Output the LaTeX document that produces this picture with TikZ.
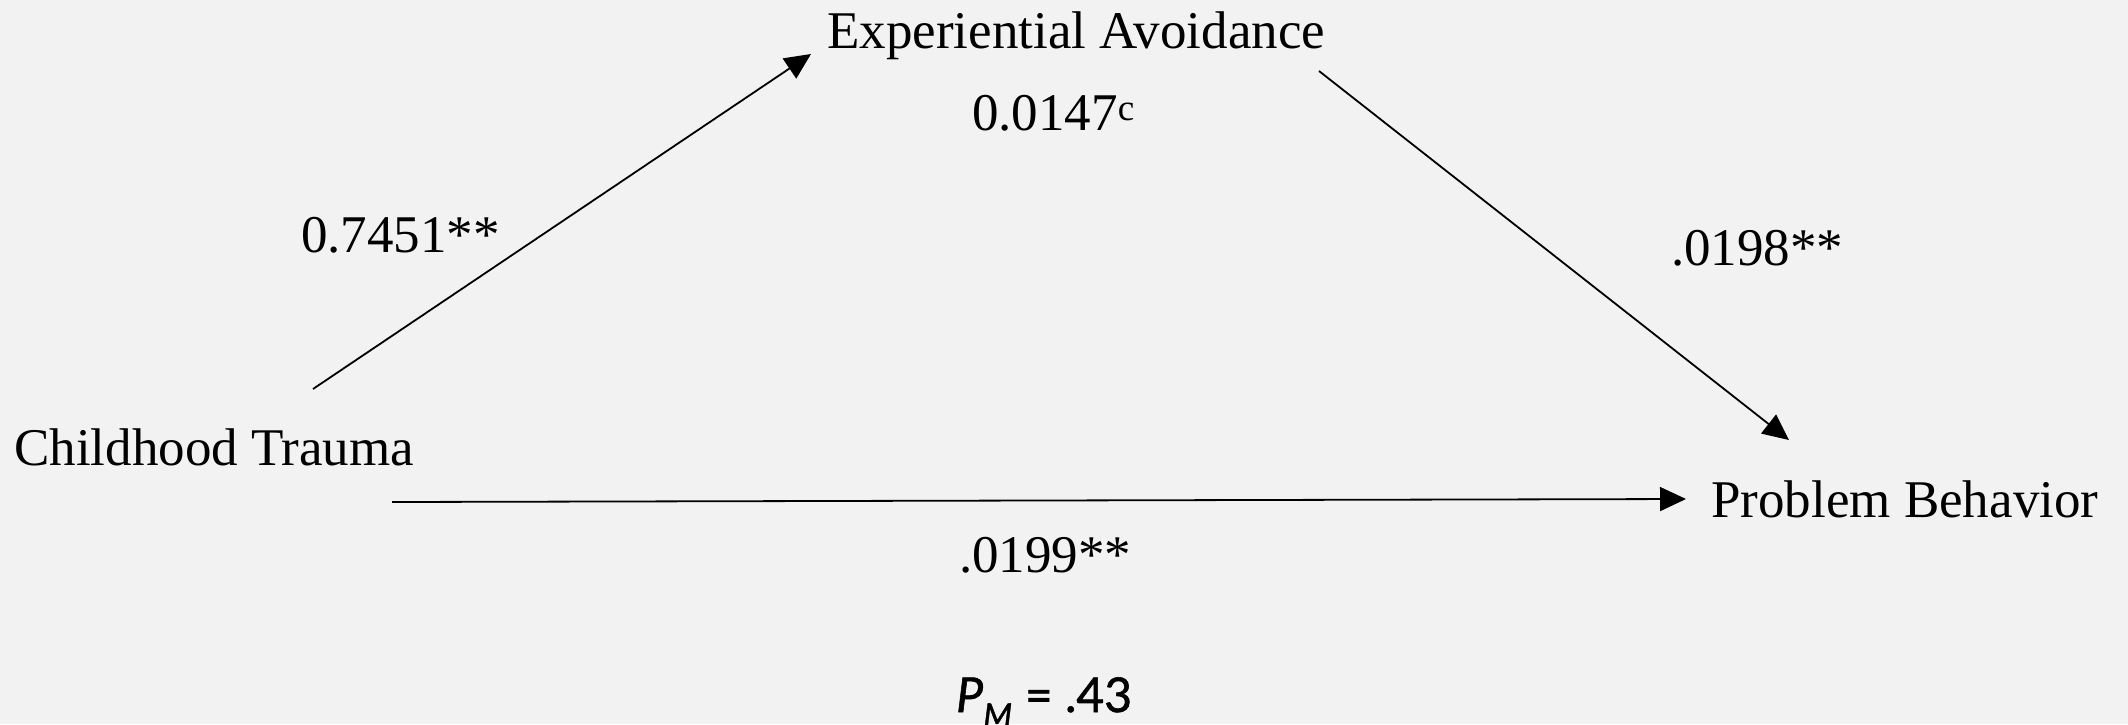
\documentclass[tikz,border=0pt]{standalone}
\usepackage{fontspec}
\setmainfont{Liberation Serif}
\newfontfamily\pmfont[FakeBold=1.2]{Lato}
\usetikzlibrary{arrows.meta}
\definecolor{bgc}{HTML}{F2F2F2}
\begin{document}
\begin{tikzpicture}[x=1pt,y=-1pt,
  lbl/.style={inner sep=0pt,anchor=base west,font=\fontsize{53}{60}\selectfont},
  conn/.style={line width=1.8pt,-{Triangle[length=26pt,width=24pt]}}]
\fill[bgc] (0,0) rectangle (2128,724);
\useasboundingbox (0,0) rectangle (2128,724);
\node[lbl] (ea) at (827,48) {Experiential Avoidance};
\node[lbl] (ind) at (972,130) {0.0147\textsuperscript{c}};
\node[lbl] (ct) at (14,465) {Childhood Trauma};
\node[lbl] (pb) at (1711,517) {Problem Behavior};
\node[lbl] (a) at (301,252) {0.7451**};
\node[lbl] (b) at (1671,265) {.0198**};
\node[lbl] (c) at (959,572) {.0199**};
\node[inner sep=0pt,anchor=base west,font=\pmfont\fontsize{48}{56}\selectfont] (pm) at (956,712) {\textit{P}\textsubscript{\textit{M}} = .43};
\coordinate (s1) at (313,389);
\coordinate (e1) at (811,54);
\coordinate (s2) at (1319,71);
\coordinate (e2) at (1789,440);
\coordinate (s3) at (392,502);
\coordinate (e3) at (1686,499);
\draw[conn] (s1) -- (e1);
\draw[conn] (s2) -- (e2);
\draw[conn] (s3) -- (e3);
\end{tikzpicture}
\end{document}
